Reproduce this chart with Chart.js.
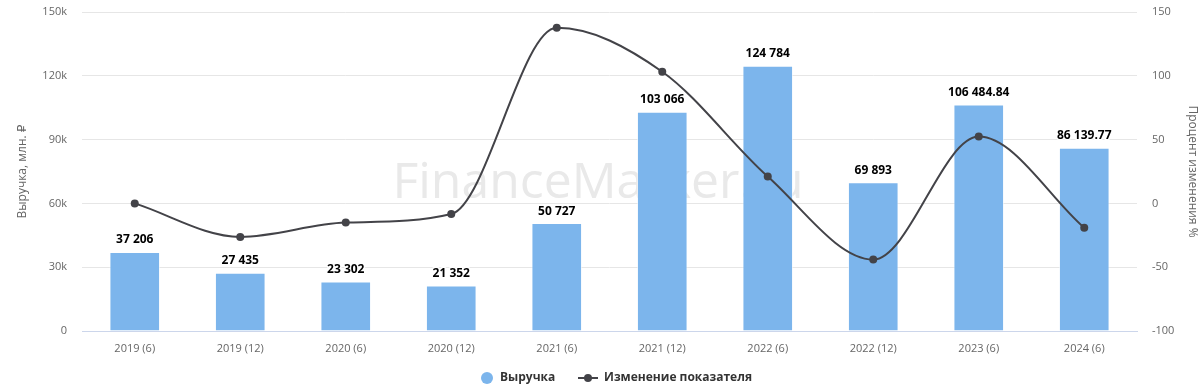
<!DOCTYPE html>
<html>
<head>
<meta charset="utf-8">
<script src="https://cdn.jsdelivr.net/npm/chart.js@4/dist/chart.umd.min.js"></script>
<style>
  html, body { margin: 0; padding: 0; background: #fff; }
  #wrap { width: 1200px; height: 389px; }
</style>
</head>
<body>
<div id="wrap"><canvas id="revChart"></canvas></div>
<script>
var labels = ['2019 (6)', '2019 (12)', '2020 (6)', '2020 (12)', '2021 (6)', '2021 (12)', '2022 (6)', '2022 (12)', '2023 (6)', '2024 (6)'];
var revenue = [37206, 27435, 23302, 21352, 50727, 103066, 124784, 69893, 106484.84, 86139.77];
var change = [0, -26.26, -15.06, -8.37, 137.58, 103.18, 21.07, -43.99, 52.36, -19.11];

var FONT = '"Open Sans", "DejaVu Sans", sans-serif';

function fmt(v) {
    var parts = String(v).split('.');
    parts[0] = parts[0].replace(/\B(?=(\d{3})+(?!\d))/g, ' ');
    return parts.join('.');
}

var watermark = {
    id: 'watermark',
    beforeDatasetsDraw: function (chart) {
        var ctx = chart.ctx;
        ctx.save();
        ctx.font = '50px ' + FONT;
        ctx.fillStyle = '#e9e9e9';
        ctx.textAlign = 'center';
        ctx.textBaseline = 'alphabetic';
        ctx.fillText('FinanceMarker.ru', 598, 198, 411);
        ctx.restore();
    }
};

var barLabels = {
    id: 'barLabels',
    afterDatasetsDraw: function (chart) {
        var ctx = chart.ctx;
        var meta = chart.getDatasetMeta(0);
        ctx.save();
        ctx.font = 'bold 12px ' + FONT;
        ctx.textAlign = 'center';
        ctx.textBaseline = 'middle';
        ctx.lineJoin = 'round';
        meta.data.forEach(function (bar, i) {
            var t = fmt(revenue[i]);
            ctx.strokeStyle = '#fff';
            ctx.lineWidth = 3;
            ctx.strokeText(t, bar.x, bar.y - 12);
            ctx.fillStyle = '#000';
            ctx.fillText(t, bar.x, bar.y - 12);
        });
        ctx.restore();
    }
};

// simple bottom legend
var bottomLegend = {
    id: 'bottomLegend',
    afterDraw: function (chart) {
        var ctx = chart.ctx;
        var y = 378;
        ctx.save();
        ctx.font = 'bold 12px ' + FONT;
        ctx.textBaseline = 'middle';
        ctx.textAlign = 'left';
        ctx.fillStyle = '#7cb5ec';
        ctx.beginPath(); ctx.arc(487, y, 6, 0, Math.PI * 2); ctx.fill();
        ctx.fillStyle = '#333';
        ctx.fillText(chart.data.datasets[0].label, 500, y);
        ctx.strokeStyle = '#434348'; ctx.lineWidth = 2;
        ctx.beginPath(); ctx.moveTo(578, y); ctx.lineTo(598, y); ctx.stroke();
        ctx.fillStyle = '#434348';
        ctx.beginPath(); ctx.arc(588, y, 4, 0, Math.PI * 2); ctx.fill();
        ctx.fillStyle = '#333';
        ctx.fillText(chart.data.datasets[1].label, 604, y);
        ctx.restore();
    }
};

var ctx = document.getElementById('revChart').getContext('2d');
var revChart = new Chart(ctx, {
    type: 'bar',
    data: {
        labels: labels,
        datasets: [{
            type: 'bar',
            label: 'Выручка',
            data: revenue,
            backgroundColor: '#7cb5ec',
            borderColor: 'rgba(255,255,255,0.6)',
            borderWidth: 1,
            barPercentage: 0.48,
            categoryPercentage: 1,
            yAxisID: 'y',
            order: 1
        }, {
            type: 'line',
            label: 'Изменение показателя',
            data: change,
            borderColor: '#434348',
            backgroundColor: '#434348',
            borderWidth: 2,
            pointRadius: 4,
            pointBorderWidth: 0,
            cubicInterpolationMode: 'monotone',
            yAxisID: 'y1',
            order: 0
        }]
    },
    options: {
        responsive: true,
        maintainAspectRatio: false,
        animation: false,
        layout: { padding: { top: 12, left: 0, right: 0, bottom: 30 } },
        plugins: {
            tooltip: { enabled: false },
            legend: { display: false }
        },
        scales: {
            x: {
                grid: { display: false, drawTicks: false },
                border: { color: '#ccd6eb' },
                ticks: { color: '#666', padding: 11, font: { family: FONT, size: 11 }, maxRotation: 0 },
                afterFit: function (s) { s.height = 28; }
            },
            y: {
                position: 'left',
                min: 0, max: 150000,
                ticks: {
                    stepSize: 30000, color: '#666', padding: 15,
                    font: { family: FONT, size: 11 },
                    callback: function (v) { return v === 0 ? '0' : (v / 1000) + 'k'; }
                },
                grid: { color: '#e6e6e6', drawTicks: false },
                border: { display: false },
                title: { display: true, text: 'Выручка, млн. ₽', color: '#666', padding: { top: 15 }, font: { family: FONT, size: 12 } },
                afterFit: function (s) { s.width = 82; s.paddingTop = 0; s.paddingBottom = 0; }
            },
            y1: {
                position: 'right',
                min: -100, max: 150,
                ticks: { stepSize: 50, color: '#666', padding: 15, font: { family: FONT, size: 11 } },
                grid: { display: false, drawTicks: false },
                border: { display: false },
                title: { display: true, text: 'Процент изменения %', color: '#666', padding: { top: 0 }, font: { family: FONT, size: 12 } },
                afterFit: function (s) { s.width = 63; s.paddingTop = 0; s.paddingBottom = 0; }
            }
        }
    },
    plugins: [watermark, barLabels, bottomLegend]
});
</script>
</body>
</html>
